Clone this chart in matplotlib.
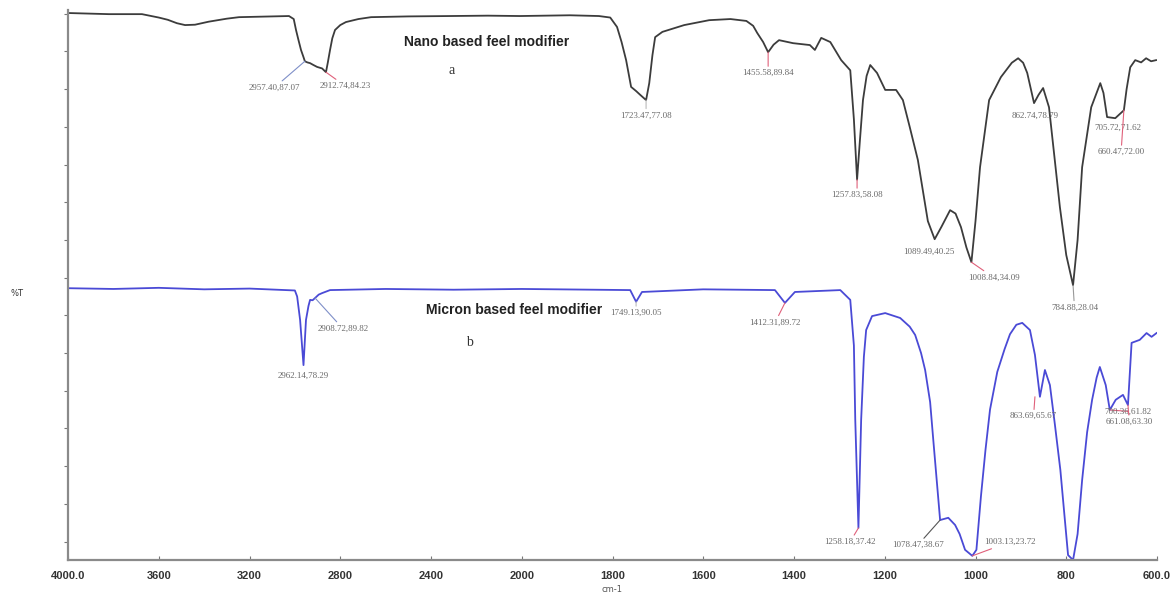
import matplotlib

matplotlib.use("Agg")

import matplotlib.pyplot as plt
import numpy as np

# FTIR spectra: wavenumber (cm-1) and %T
nano_wn = [4000, 3820, 3674, 3600, 3560, 3520, 3484, 3440, 3380, 3300, 3246, 3100,
           3026, 3005, 2995, 2984, 2973, 2962, 2956, 2945, 2933, 2918, 2902, 2880,
           2863, 2855, 2845, 2835, 2823, 2800, 2775, 2720, 2664, 2500, 2316, 2150,
           2008, 1894, 1830, 1805, 1790, 1780, 1770, 1759, 1748, 1739, 1726, 1719,
           1712, 1706, 1690, 1642, 1587, 1540, 1505, 1490, 1481, 1468, 1457, 1445,
           1433, 1402, 1365, 1354, 1340, 1320, 1296, 1276, 1268, 1261, 1255, 1248,
           1240, 1232, 1217, 1199, 1175, 1160, 1145, 1127, 1105, 1090, 1075, 1056,
           1044, 1032, 1020, 1009, 1000, 990, 970, 944, 920, 906, 895, 886, 871, 861,
           851, 838, 826, 814, 800, 785, 775, 765, 745, 725, 718, 710, 692, 673,
           667, 659, 648, 635, 624, 613, 602]
nano_t = [100.2, 99.9, 99.9, 99.0, 98.4, 97.5, 97.0, 97.1, 97.9, 98.7, 99.1, 99.3,
          99.4, 98.6, 95.7, 93.0, 90.4, 88.5, 87.4, 87.1, 86.9, 86.4, 85.9, 85.5,
          84.5, 87.0, 90.4, 93.5, 95.7, 97.0, 97.8, 98.6, 99.1, 99.3, 99.4, 99.5,
          99.4, 99.6, 99.4, 99.0, 96.5, 92.5, 87.7, 80.6, 79.5, 78.5, 77.1, 81.6,
          89.0, 93.8, 95.2, 97.0, 98.3, 98.6, 98.1, 96.8, 94.9, 92.5, 89.8, 91.8,
          93.0, 92.2, 91.7, 90.4, 93.6, 92.5, 87.7, 85.0, 72.0, 56.0, 66.0, 77.1,
          83.5, 86.4, 84.3, 79.8, 79.8, 77.1, 70.0, 61.2, 45.0, 40.2, 43.5, 47.9,
          47.0, 43.4, 38.0, 34.1, 45.0, 59.3, 77.1, 83.2, 87.0, 88.2, 87.0, 84.3,
          76.3, 78.5, 80.3, 75.2, 62.0, 48.7, 36.0, 28.0, 40.0, 59.3, 75.2, 81.6,
          79.0, 72.6, 72.3, 74.4, 80.0, 85.8, 87.7, 87.1, 88.2, 87.4, 87.7]

micron_wn = [4000, 3800, 3600, 3400, 3200, 3000, 2990, 2977, 2962, 2951, 2940,
             2933, 2922, 2911, 2895, 2880, 2845, 2600, 2300, 2000, 1761, 1748,
             1735, 1600, 1442, 1420, 1398, 1298, 1276, 1268, 1265, 1258, 1252,
             1246, 1241, 1228, 1199, 1166, 1145, 1133, 1120, 1111, 1100, 1093,
             1078, 1060, 1045, 1035, 1023, 1007, 998, 988, 978, 968, 952, 936, 924,
             910, 897, 880, 869, 858, 847, 836, 825, 813, 804, 796, 785, 775, 765,
             754, 743, 733, 726, 713, 704, 691, 675, 664, 656, 638, 623, 612, 601]
micron_t = [100.2, 100.0, 100.3, 99.9, 100.1, 99.6, 98.0, 91.8, 79.8, 91.8, 95.5,
            97.1, 97.0, 97.6, 98.5, 98.9, 99.7, 100.0, 99.8, 100.0, 99.7, 96.6,
            99.2, 99.9, 99.7, 96.3, 99.2, 99.7, 97.1, 85.0, 65.3, 36.6, 65.3,
            82.0, 89.1, 92.8, 93.6, 92.3, 90.0, 87.8, 83.0, 78.5, 70.0, 59.9,
            38.7, 39.3, 37.4, 35.0, 30.8, 29.2, 30.8, 45.0, 57.3, 68.0, 78.0, 84.0,
            88.0, 90.5, 91.0, 89.1, 82.5, 71.4, 78.5, 74.5, 64.0, 52.0, 40.0,
            29.4, 28.1, 35.0, 49.3, 62.0, 70.6, 76.5, 79.3, 74.5, 67.9, 70.6,
            71.9, 69.2, 85.7, 86.5, 88.3, 87.3, 88.3]
micron_offset = 73.0

nano_labels = ["2957.40,87.07", "2912.74,84.23", "1723.47,77.08", "1455.58,89.84",
               "1257.83,58.08", "1089.49,40.25", "1008.84,34.09", "862.74,78.79",
               "784.88,28.04", "705.72,71.62", "660.47,72.00"]
nano_peak_wn = [2956, 2863, 1726, 1457, 1261, 1090, 1009, 871, 785, 710, 673]
nano_peak_t = [87.4, 84.5, 77.1, 89.8, 56.0, 40.2, 34.1, 76.3, 28.0, 72.6, 74.4]

micron_labels = ["2962.14,78.29", "2908.72,89.82", "1749.13,90.05", "1412.31,89.72",
                 "1258.18,37.42", "1078.47,38.67", "1003.13,23.72", "863.69,65.67",
                 "700.36,61.82", "661.08,63.30"]
micron_peak_wn = [2962, 2911, 1748, 1420, 1258, 1078, 1007, 869, 704, 664]
micron_peak_t = [79.8, 97.6, 96.6, 96.3, 36.6, 38.7, 29.2, 71.4, 67.9, 69.2]

tick_wn = [4000, 3600, 3200, 2800, 2400, 2000, 1800, 1600, 1400, 1200, 1000, 800, 600]
tick_text = ["4000.0", "3600", "3200", "2800", "2400", "2000", "1800", "1600",
             "1400", "1200", "1000", "800", "600.0"]

# label offsets (points) and leader colours
nano_offsets = [(-22, -19), (14, -10), (0, -11), (0, -15), (0, -11), (-4, -9),
                (16, -11), (1, -9), (1, -16), (8, -8), (-2, -30)]
nano_lead = ["#7f8fc8", "#e0607a", "#bbbbbb", "#e0607a", "#e0607a", "none",
             "#e0607a", "none", "#999999", "none", "#e0607a"]
micron_offsets = [(0, -8), (20, -22), (0, -8), (-7, -14), (-6, -10), (-16, -18),
                  (27, 10), (-1, -14), (13, -1), (1, -12)]
micron_lead = ["none", "#7f8fc8", "#bbbbbb", "#e0607a", "#e0607a", "#555555",
               "#e0607a", "#e0607a", "#e0607a", "#e0607a"]


def fwd(w):
    w = np.asarray(w, dtype=float)
    return np.where(w >= 2000, (w - 2000) / 400.0, (w - 2000) / 200.0)


def inv(u):
    u = np.asarray(u, dtype=float)
    return np.where(u >= 0, 2000 + 400.0 * u, 2000 + 200.0 * u)


fig = plt.figure(figsize=(11.73, 5.95), dpi=100)
ax = fig.add_axes([68 / 1173, 35 / 595, 1089 / 1173, 550 / 595])
ax.set_xscale("function", functions=(fwd, inv))
ax.set_xlim(4000, 600)
ax.set_ylim(-44.9, 101)

ax.plot(nano_wn, nano_t, color="#3c3c3c", lw=1.3)
ax.plot(micron_wn, np.array(micron_t) - micron_offset, color="#4a4ad6", lw=1.3)

lbl_font = dict(fontsize=6.5, color="#6a6a6a", family="Liberation Serif",
                ha="center", va="center")
for txt, w, t, off, col in zip(nano_labels, nano_peak_wn, nano_peak_t, nano_offsets, nano_lead):
    ap = None if col == "none" else dict(arrowstyle="-", color=col, lw=0.8, shrinkA=0, shrinkB=0)
    ax.annotate(txt, xy=(w, t), xytext=off, textcoords="offset points", arrowprops=ap, **lbl_font)
for txt, w, t, off, col in zip(micron_labels, micron_peak_wn, micron_peak_t, micron_offsets, micron_lead):
    ap = None if col == "none" else dict(arrowstyle="-", color=col, lw=0.8, shrinkA=0, shrinkB=0)
    ax.annotate(txt, xy=(w, t - micron_offset), xytext=off, textcoords="offset points",
                arrowprops=ap, **lbl_font)

fig.text(487 / 1173, 1 - 42 / 595, "Nano based feel modifier", fontsize=10, fontweight="bold",
         family="Liberation Sans", color="#222222", ha="center", va="center")
fig.text(452 / 1173, 1 - 70 / 595, "a", fontsize=10, family="Liberation Serif",
         color="#333333", ha="center", va="center")
fig.text(426 / 1173, 1 - 310 / 595, "Micron based feel modifier", fontsize=10, fontweight="bold",
         family="Liberation Sans", color="#222222", ha="left", va="center")
fig.text(469 / 1173, 1 - 342 / 595, "b", fontsize=10, family="Liberation Serif",
         color="#333333", ha="center", va="center")
fig.text(17 / 1173, 1 - 293 / 595, "%T", fontsize=6, color="#333333", ha="center", va="center")
fig.text(612 / 1173, 1 - 589 / 595, "cm-1", fontsize=6, color="#555555", ha="center", va="center")

ax.set_xticks(tick_wn)
ax.set_xticklabels(tick_text)
ax.minorticks_off()
ax.set_yticks(np.arange(-40, 101, 10))
ax.set_yticklabels([])
ax.tick_params(axis="x", direction="in", length=3, color="#777777", labelsize=8,
               labelcolor="#333333", pad=8)
ax.tick_params(axis="y", direction="out", length=3, color="#777777")
for lab in ax.get_xticklabels():
    lab.set_fontweight("bold")
    lab.set_family("Liberation Sans")
for side in ["top", "right"]:
    ax.spines[side].set_visible(False)
for side in ["left", "bottom"]:
    ax.spines[side].set_color("#8a8a8a")
    ax.spines[side].set_linewidth(1.6)

fig.savefig("out.png", dpi=100)
